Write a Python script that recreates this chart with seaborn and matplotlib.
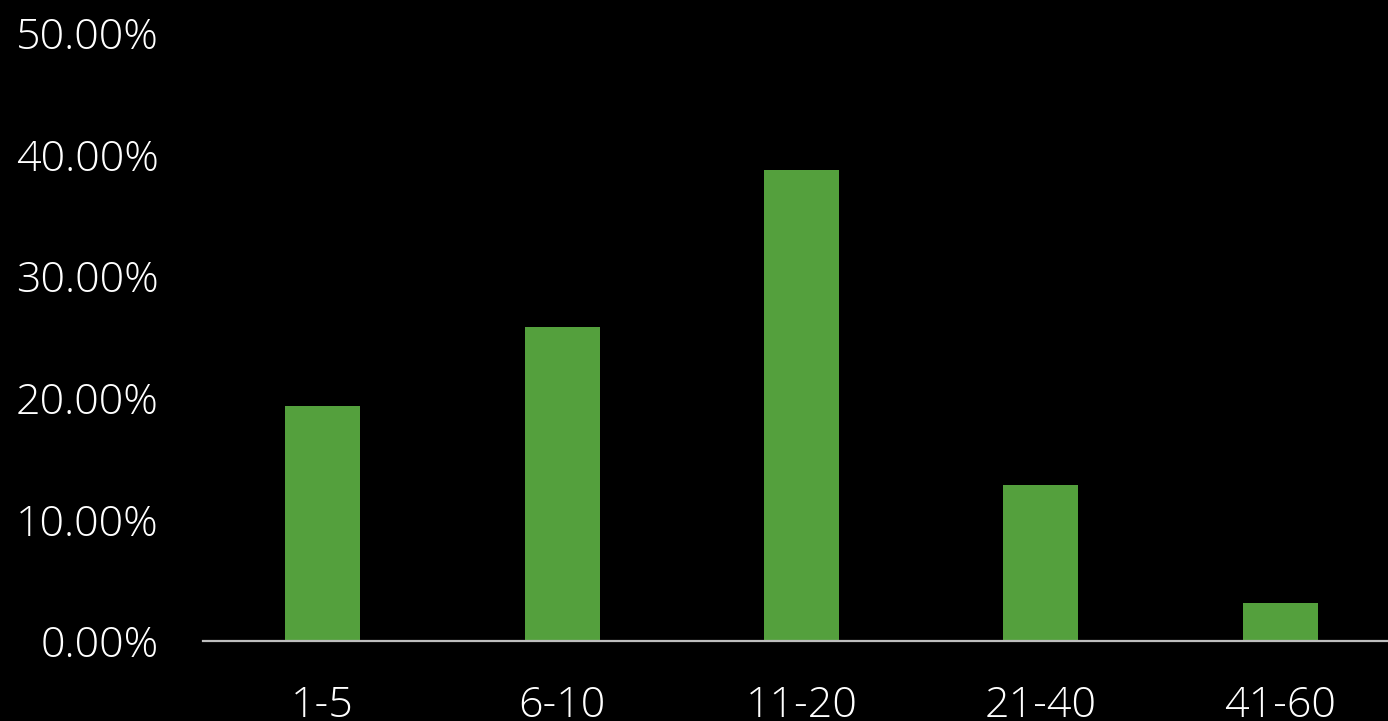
import matplotlib
matplotlib.use("Agg")
import matplotlib.pyplot as plt
import pandas as pd
import seaborn as sns
from matplotlib.ticker import PercentFormatter

# ── Data ───────────────────────────────────────────────────────────────────
categories = ["1-5", "6-10", "11-20", "21-40", "41-60"]
shares = [0.193, 0.258, 0.387, 0.128, 0.031]
y_ticks = [0.0, 0.1, 0.2, 0.3, 0.4, 0.5]

BAR_COLOR = "#54A03D"
BG = "#000000"

df = pd.DataFrame({"range": categories, "share": shares})

sns.set_theme(style="white")
plt.rcParams["font.family"] = ["Open Sans", "DejaVu Sans"]

fig = plt.figure(figsize=(13.88, 7.21), dpi=100, facecolor=BG)
ax = fig.add_axes([203 / 1388, 1 - 641 / 721, 1 - 203 / 1388, (641 - 33) / 721])
ax.set_facecolor(BG)

sns.barplot(data=df, x="range", y="share", color=BAR_COLOR, width=0.313,
            saturation=1, linewidth=0, edgecolor="none", ax=ax)

ax.set_ylim(0, 0.5)
ax.set_xlim(-0.5, 4.45)
ax.set_yticks(y_ticks)
ax.yaxis.set_major_formatter(PercentFormatter(1.0, decimals=2))
ax.set_xlabel("")
ax.set_ylabel("")

for side in ["top", "right", "left"]:
    ax.spines[side].set_visible(False)
ax.spines["bottom"].set_color("#BFBFBF")
ax.spines["bottom"].set_linewidth(1.6)

ax.tick_params(axis="y", length=0, pad=32, labelsize=31, labelcolor="white")
ax.tick_params(axis="x", length=0, pad=31, labelsize=31, labelcolor="white")
for lbl in ax.get_xticklabels() + ax.get_yticklabels():
    lbl.set_fontweight("light")

fig.savefig("out.png", dpi=100, facecolor=BG)
